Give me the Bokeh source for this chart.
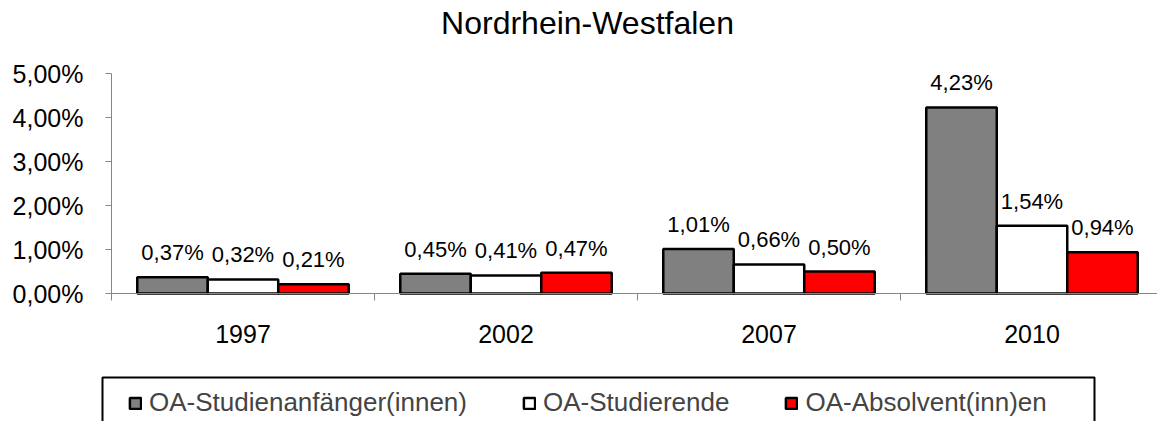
from bokeh.plotting import figure
from bokeh.models import (ColumnDataSource, FixedTicker, Legend, LegendItem,
                          LabelSet, Label, Range1d, BoxAnnotation)
from bokeh.core.properties import value
from bokeh.embed import file_html
from bokeh.resources import INLINE

# ---------------- data ----------------
categories = ["1997", "2002", "2007", "2010"]
studienanfaenger = [0.37, 0.45, 1.01, 4.23]
studierende = [0.32, 0.41, 0.66, 1.54]
absolventen = [0.21, 0.47, 0.50, 0.94]
series_names = ["OA-Studienanfänger(innen)", "OA-Studierende", "OA-Absolvent(inn)en"]
series_colors = ["#808080", "#FFFFFF", "#FF0000"]
y_ticks = [0, 1, 2, 3, 4, 5]
y_tick_labels = ["0,00%", "1,00%", "2,00%", "3,00%", "4,00%", "5,00%"]
title_text = "Nordrhein-Westfalen"

FONT = "Liberation Sans"
series_values = [studienanfaenger, studierende, absolventen]

# ---------------- layout (pixels) ----------------
W, H = 1157, 421
AX_X = 111        # pixel x of the value axis
AX_Y = 293        # pixel y of the 0 % line
CAT_PX = 263      # pixels per category
PCT_PX = 44       # pixels per 1 %

bar_w = 0.268
offsets = [-bar_w, 0.0, bar_w]
centers = [i + 0.5 for i in range(len(categories))]


def px_x(px):
    return (px - AX_X) / CAT_PX


def px_y(py):
    return (AX_Y - py) / PCT_PX


def fmt(v):
    return f"{v:.2f}".replace(".", ",") + "%"


p = figure(width=W, height=H, output_backend="svg", toolbar_location=None,
           x_range=Range1d(px_x(0), px_x(W)), y_range=Range1d(px_y(H), px_y(0)),
           min_border_left=0, min_border_right=0,
           min_border_top=0, min_border_bottom=0)
p.outline_line_color = None
p.xgrid.visible = False
p.ygrid.visible = False
p.background_fill_color = "white"
p.border_fill_color = "white"

renderers = []
for vals, off, col in zip(series_values, offsets, series_colors):
    src = ColumnDataSource(dict(x=[c + off for c in centers], top=vals,
                                label=[fmt(v) for v in vals]))
    r = p.vbar(x="x", top="top", width=bar_w, bottom=0, source=src,
               fill_color=col, line_color="black", line_width=2.5)
    renderers.append(r)
    ls = LabelSet(x="x", y="top", text="label", source=src, y_offset=17,
                  text_align="center", text_baseline="alphabetic",
                  text_font=value(FONT), text_font_size=value("22px"),
                  text_color="black")
    p.add_layout(ls)

# y axis (fixed at x = 0 inside the frame)
yax = p.yaxis[0]
yax.fixed_location = 0
yax.bounds = (0, 5)
yax.ticker = FixedTicker(ticks=y_ticks)
yax.major_label_overrides = dict(zip(y_ticks, y_tick_labels))
yax.axis_line_color = "#868686"
yax.major_tick_line_color = "#868686"
yax.major_tick_out = 6
yax.major_tick_in = 0
yax.minor_tick_out = 0
yax.minor_tick_in = 0
yax.major_label_standoff = 22
yax.major_label_text_font = FONT
yax.major_label_text_font_size = "25px"
yax.major_label_text_color = "black"

# x axis (fixed at y = 0 inside the frame)
xax = p.xaxis[0]
xax.fixed_location = 0
xax.bounds = (0, len(categories))
xax.ticker = FixedTicker(ticks=centers, minor_ticks=list(range(len(categories) + 1)))
xax.major_label_overrides = dict(zip(centers, categories))
xax.axis_line_color = "#868686"
xax.major_tick_out = 0
xax.major_tick_in = 0
xax.minor_tick_out = 7
xax.minor_tick_in = 0
xax.minor_tick_line_color = "#868686"
xax.major_label_standoff = 24
xax.major_label_text_font = FONT
xax.major_label_text_font_size = "25px"
xax.major_label_text_color = "black"

# title
p.add_layout(Label(x=px_x(587), y=px_y(22), text=title_text, text_align="center",
                   text_baseline="alphabetic", text_font=FONT,
                   text_font_size="32px", text_color="black"))

# legend frame
p.add_layout(BoxAnnotation(left=px_x(102), right=px_x(1094), top=px_y(377),
                           bottom=px_y(H + 20), fill_alpha=0.0,
                           line_color="black", line_width=2, line_alpha=1.0))

# legend
items = [LegendItem(label=n, renderers=[r]) for n, r in zip(series_names, renderers)]
legend = Legend(items=items, orientation="horizontal", location=(128, 3),
                padding=0, spacing=55, glyph_width=14, glyph_height=14,
                label_standoff=7, label_text_font=FONT, label_text_font_size="26px",
                border_line_color=None, background_fill_alpha=0.0, margin=0)
p.add_layout(legend)

open("out.html", "w").write(file_html(p, INLINE))
